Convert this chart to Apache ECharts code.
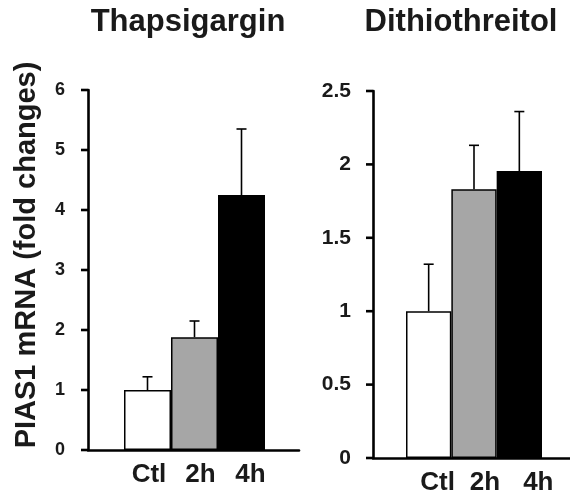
<!DOCTYPE html>
<html><head><meta charset="utf-8">
<script src="https://cdn.jsdelivr.net/npm/echarts@6/dist/echarts.min.js"></script>
<style>html,body{margin:0;padding:0;background:#fff}#c{width:570px;height:496px}</style>
</head><body><div id="c"></div>
<script>
const categories = ['Ctl', '2h', '4h'];
const thapTitle = 'Thapsigargin';
const dttTitle = 'Dithiothreitol';
const yTitle = 'PIAS1 mRNA (fold changes)';
const thapMean = [1.0, 1.88, 4.25];
const thapUpper = [1.22, 2.15, 5.35];
const dttMean = [1.0, 1.83, 1.955];
const dttUpper = [1.32, 2.13, 2.36];
const thapTickValues = [0, 1, 2, 3, 4, 5, 6];
const dttTickValues = [0, 0.5, 1, 1.5, 2, 2.5];
const thapTicks = {min: 0, max: 6, interval: 1};
const dttTicks = {min: 0, max: 2.5, interval: 0.5};
const barColors = ['#ffffff', '#a6a6a6', '#000000'];

const FONT = 'Liberation Sans';
const TXT = '#1a1a1a';
const chart = echarts.init(document.getElementById('c'), null, {renderer: 'canvas'});

function errRender(params, api) {
  const x = api.value(0);
  const p0 = api.coord([x, api.value(1)]);
  const p1 = api.coord([x, api.value(2)]);
  const h = 5;
  const st = {stroke: '#000', lineWidth: 1.6};
  return {type: 'group', children: [
    {type: 'line', shape: {x1: p0[0], y1: p0[1], x2: p1[0], y2: p1[1]}, style: st},
    {type: 'line', shape: {x1: p1[0] - h, y1: p1[1], x2: p1[0] + h, y2: p1[1]}, style: st}
  ]};
}
function tickRender(params, api) {
  const p = api.coord([0, api.value(0)]);
  return {type: 'line', shape: {x1: p[0] - 7, y1: p[1], x2: p[0], y2: p[1]},
          style: {stroke: '#000', lineWidth: 2.6}};
}
function catData(shifts) {
  return categories.map((c, i) => ({value: c, textStyle: {padding: [0, 0, 0, shifts[i] * 2]}}));
}
function lineStyle() { return {color: '#000', width: 2.6}; }

const option = {
  animation: false,
  title: [
    {text: thapTitle, left: 188, top: 7, textAlign: 'center', padding: 0,
     textStyle: {fontFamily: FONT, fontWeight: 'bold', fontSize: 31, color: TXT}},
    {text: dttTitle, left: 461, top: 7, textAlign: 'center', padding: 0,
     textStyle: {fontFamily: FONT, fontWeight: 'bold', fontSize: 31, color: TXT}}
  ],
  graphic: [{
    type: 'text', x: 27, y: 255, rotation: Math.PI / 2,
    style: {text: yTitle, font: 'bold 29px "Liberation Sans"', fill: TXT, align: 'center', verticalAlign: 'middle'}
  }],
  grid: [
    {left: 88, top: 90, width: 211, height: 360},
    {left: 124, top: 90, width: 141, height: 360},
    {left: 373, top: 91, width: 197, height: 367},
    {left: 406, top: 91, width: 136, height: 367}
  ],
  xAxis: [
    {gridIndex: 0, type: 'value', min: 0, max: 1, axisLine: {show: true, lineStyle: lineStyle()},
     axisTick: {show: false}, axisLabel: {show: false}, splitLine: {show: false}},
    {gridIndex: 1, type: 'category', data: catData([1.5, 6, 9]), axisLine: {show: false}, axisTick: {show: false},
     axisLabel: {margin: 12, fontFamily: FONT, fontWeight: 'bold', fontSize: 26, color: TXT}},
    {gridIndex: 2, type: 'value', min: 0, max: 1, axisLine: {show: true, lineStyle: lineStyle()},
     axisTick: {show: false}, axisLabel: {show: false}, splitLine: {show: false}},
    {gridIndex: 3, type: 'category', data: catData([9, 11, 19]), axisLine: {show: false}, axisTick: {show: false},
     axisLabel: {margin: 12, fontFamily: FONT, fontWeight: 'bold', fontSize: 26, color: TXT}}
  ],
  yAxis: [
    {gridIndex: 0, type: 'value', ...thapTicks, axisLine: {show: true, lineStyle: lineStyle()},
     axisTick: {show: false}, splitLine: {show: false},
     axisLabel: {margin: 23, fontFamily: FONT, fontWeight: 'bold', fontSize: 18, color: TXT}},
    {gridIndex: 1, type: 'value', ...thapTicks, show: false, splitLine: {show: false}},
    {gridIndex: 2, type: 'value', ...dttTicks, axisLine: {show: true, lineStyle: lineStyle()},
     axisTick: {show: false}, splitLine: {show: false},
     axisLabel: {margin: 22, fontFamily: FONT, fontWeight: 'bold', fontSize: 21, color: TXT}},
    {gridIndex: 3, type: 'value', ...dttTicks, show: false, splitLine: {show: false}}
  ],
  series: [
    {type: 'custom', xAxisIndex: 0, yAxisIndex: 0, clip: false, silent: true, renderItem: tickRender,
     data: thapTickValues.map(v => [v])},
    {type: 'custom', xAxisIndex: 2, yAxisIndex: 2, clip: false, silent: true, renderItem: tickRender,
     data: dttTickValues.map(v => [v])},
    {type: 'bar', xAxisIndex: 1, yAxisIndex: 1, barCategoryGap: 0,
     data: thapMean.map((v, i) => ({value: v, itemStyle: {color: barColors[i]}})),
     itemStyle: {borderColor: '#000', borderWidth: 1.5}},
    {type: 'custom', xAxisIndex: 1, yAxisIndex: 1, z: 5, renderItem: errRender,
     data: thapMean.map((v, i) => [i, v, thapUpper[i]])},
    {type: 'bar', xAxisIndex: 3, yAxisIndex: 3, barCategoryGap: 0,
     data: dttMean.map((v, i) => ({value: v, itemStyle: {color: barColors[i]}})),
     itemStyle: {borderColor: '#000', borderWidth: 1.5}},
    {type: 'custom', xAxisIndex: 3, yAxisIndex: 3, z: 5, renderItem: errRender,
     data: dttMean.map((v, i) => [i, v, dttUpper[i]])}
  ]
};
chart.setOption(option);
</script></body></html>
